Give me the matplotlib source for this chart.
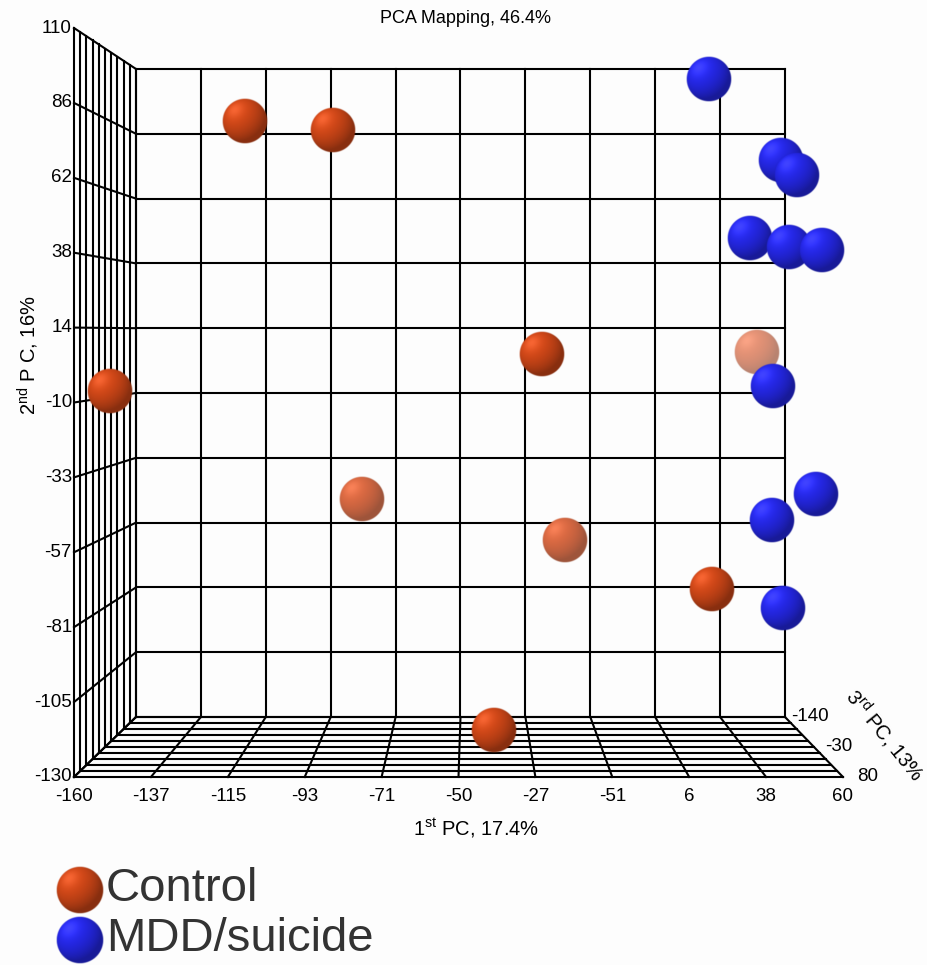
import matplotlib.pyplot as plt
import numpy as np

plt.rcParams['font.family'] = ['Liberation Sans', 'DejaVu Sans']
plt.rcParams['mathtext.fontset'] = 'custom'
plt.rcParams['mathtext.rm'] = 'Liberation Sans'
plt.rcParams['mathtext.it'] = 'Liberation Sans:italic'

# PCA scores (1st, 2nd, 3rd PC)
ctrl_pc1 = [-116.6, -89.3, -24.8, -153.0, -81.4, -16.2, 27.1, -39.3, 49.6]
ctrl_pc2 = [85.1, 82.0, 5.1, -6.8, -46.5, -61.0, -74.5, -124.2, 5.2]
ctrl_pc3 = [-30, -30, -8, 36, -74, -74, -8, -30, -129]

mdd_pc1 = [26.2, 46.6, 49.8, 37.3, 47.5, 55.6, 44.2, 53.8, 43.9, 45.7]
mdd_pc2 = [98.3, 70.0, 64.3, 44.0, 40.6, 39.2, -5.4, -40.0, -50.2, -78.3]
mdd_pc3 = [-8, 14, 36, 14, 36, 58, 14, 58, 14, 36]

x_labels = ['-160', '-137', '-115', '-93', '-71', '-50', '-27', '-51', '6', '38', '60']
y_labels = ['-130', '-105', '-81', '-57', '-33', '-10', '14', '38', '62', '86', '110']
z_labels = ['-140', '-30', '80']

xr = (-160, 60)
yr = (-130, 110)
zr = (-140, 80)   # back -> front

# box corners in pixels: back wall and front frame
BL, BR, BT, BB = 136, 785, 69, 717
FL, FR, FT, FB = 74, 843, 28, 777


def proj(u, v, w):
    # u,v,w in 0..1 ; w=0 back wall, w=1 front
    xb = BL + u * (BR - BL)
    yb = BB - v * (BB - BT)
    xf = FL + u * (FR - FL)
    yf = FB - v * (FB - FT)
    return xb + w * (xf - xb), yb + w * (yf - yb)


def norm(val, r):
    return (np.asarray(val, float) - r[0]) / (r[1] - r[0])


def sphere(ax, x, y, r, base, fog=0.0, z=3):
    n = 90
    g = np.linspace(-1, 1, n)
    gx, gy = np.meshgrid(g, g)
    rho = np.sqrt(gx**2 + gy**2)
    nz = np.sqrt(np.clip(1 - rho**2, 0, 1))
    L = np.array([-0.45, -0.5, 0.74])
    L = L / np.linalg.norm(L)
    d = np.clip(gx * L[0] + gy * L[1] + nz * L[2], 0, 1)
    shade = 0.68 + 0.42 * d
    spec = 0.10 * d**14
    rgb = np.clip(np.array(base)[None, None, :] * shade[..., None] + spec[..., None], 0, 1)
    rgb = rgb * (1 - fog) + fog
    alpha = np.clip((1 - rho) * r, 0, 1)
    img = np.dstack([rgb, alpha])
    ax.imshow(img, extent=(x - r, x + r, y + r, y - r), origin='upper',
              interpolation='bilinear', zorder=z)


fig = plt.figure(figsize=(9.28, 9.65), dpi=100)
fig.patch.set_facecolor('#fdfdfd')
ax = fig.add_axes([0, 0, 1, 1])
ax.set_xlim(0, 928)
ax.set_ylim(965, 0)
ax.axis('off')

lw = 1.5
t = np.linspace(0, 1, 11)
# back wall
for s in t:
    ax.plot(*zip(proj(s, 0, 0), proj(s, 1, 0)), color='k', lw=lw, zorder=1)
    ax.plot(*zip(proj(0, s, 0), proj(1, s, 0)), color='k', lw=lw, zorder=1)
# left wall
for s in t:
    ax.plot(*zip(proj(0, 0, s), proj(0, 1, s)), color='k', lw=lw, zorder=1)
    ax.plot(*zip(proj(0, s, 0), proj(0, s, 1)), color='k', lw=lw, zorder=1)
# floor
for s in t:
    ax.plot(*zip(proj(0, 0, s), proj(1, 0, s)), color='k', lw=lw, zorder=1)
    ax.plot(*zip(proj(s, 0, 0), proj(s, 0, 1)), color='k', lw=lw, zorder=1)

fs = 13.5
for i, lab in enumerate(y_labels):
    px, py = proj(0, i / 10, 1)
    ax.text(px - 2, py, lab, ha='right', va='center', fontsize=fs)
for i, lab in enumerate(x_labels):
    px, py = proj(i / 10, 0, 1)
    ax.text(px, py + 11, lab, ha='center', va='top', fontsize=fs)
for i, lab in enumerate(z_labels):
    px, py = proj(1, 0, i / 2)
    ax.text(px + 25, py, lab, ha='center', va='center', fontsize=fs)

ax.text(466, 18, 'PCA Mapping, 46.4%', ha='center', va='center', fontsize=13)
ax.text(476, 828, r'1$^{\mathrm{st}}$ PC, 17.4%', ha='center', va='center', fontsize=14.5)
ax.text(28, 355, r'2$^{\mathrm{nd}}$ P C, 16%', ha='center', va='center', rotation=90, fontsize=14.5)
ax.text(885, 735, r'3$^{\mathrm{rd}}$ PC, 13%', ha='center', va='center', rotation=-51,
        fontsize=14.5, rotation_mode='anchor')

orange = (0.79, 0.27, 0.09)
blue = (0.14, 0.15, 0.88)

pts = []
for a, b, c in zip(ctrl_pc1, ctrl_pc2, ctrl_pc3):
    pts.append((a, b, c, orange))
for a, b, c in zip(mdd_pc1, mdd_pc2, mdd_pc3):
    pts.append((a, b, c, blue))
pts.sort(key=lambda p: p[2])

for k, (a, b, c, col) in enumerate(pts):
    w = float(norm(c, zr))
    px, py = proj(float(norm(a, xr)), float(norm(b, yr)), w)
    fog = float(np.clip((0.5 - w) * 0.9, 0, 0.6))
    sphere(ax, px, py, 23, col, fog, z=3 + k)

# legend
sphere(ax, 80, 890, 24, orange, z=40)
sphere(ax, 80, 940, 24, blue, z=40)
ax.text(106, 889, 'Control', ha='left', va='center', fontsize=34, color='#333333')
ax.text(106, 939, 'MDD/suicide', ha='left', va='center', fontsize=34, color='#333333')

plt.savefig('out.png', dpi=100, facecolor=fig.get_facecolor())
